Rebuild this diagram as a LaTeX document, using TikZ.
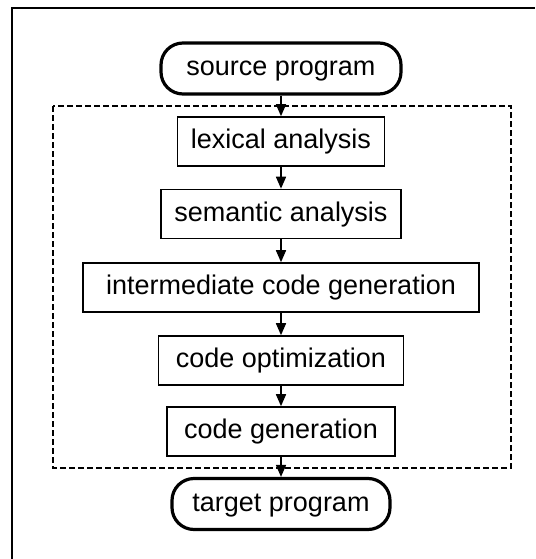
\documentclass[tikz,border=0pt]{standalone}
\usepackage{fontspec}
\setmainfont{Liberation Sans}
\usetikzlibrary{arrows.meta}
\begin{document}
\begin{tikzpicture}[x=1pt, y=-1pt,
  label font/.style={font=\fontsize{27}{31}\selectfont, text height=19.5pt, text depth=5pt},
  stage/.style={draw, line width=1.6pt, minimum height=49pt, inner sep=0pt, label font},
  terminal/.style={draw, line width=3.2pt, rounded corners=22pt, minimum height=51pt, inner sep=0pt, label font},
  flow/.style={-{Triangle[length=12pt, width=10pt]}, line width=1.6pt},
  group/.style={dash pattern=on 6pt off 3pt, line width=1.4pt},
  frame/.style={line width=2.2pt}]
\useasboundingbox (0,0) rectangle (535,559);

% outer frame (top and left edges)
\draw[frame] (12,559) -- (12,8) -- (535,8);

% compiler phases group
\draw[group] (53,106) rectangle (511,468);

% nodes
\node[terminal, minimum width=240pt] (src) at (281,68.5) {source program};
\node[stage, minimum width=207pt] (lex) at (281,141.5) {lexical analysis};
\node[stage, minimum width=240pt] (sem) at (281,214) {semantic analysis};
\node[stage, minimum width=396pt] (icg) at (281,287.5) {intermediate code generation};
\node[stage, minimum width=245pt] (opt) at (281,360.5) {code optimization};
\node[stage, minimum width=228pt] (gen) at (281,431.5) {code generation};
\node[terminal, minimum width=218pt] (tgt) at (281,504) {target program};

% connectors
\draw[flow] (src) -- (lex);
\draw[flow] (lex) -- (sem);
\draw[flow] (sem) -- (icg);
\draw[flow] (icg) -- (opt);
\draw[flow] (opt) -- (gen);
\draw[flow] (gen) -- (tgt);
\end{tikzpicture}
\end{document}
